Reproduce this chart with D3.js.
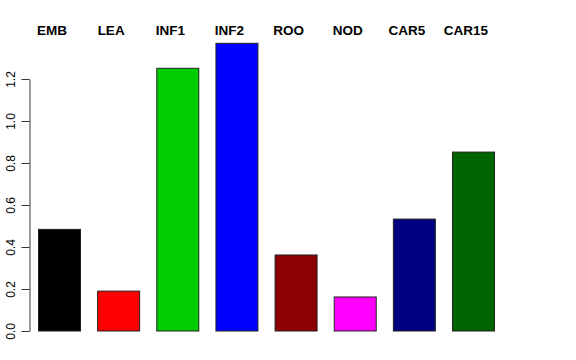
<!DOCTYPE html>
<html><head><meta charset="utf-8">
<script src="https://cdn.jsdelivr.net/npm/d3@7"></script>
<style>body{margin:0;background:#fff}svg{display:block}</style>
</head><body>
<script>
const categories = ["EMB","LEA","INF1","INF2","ROO","NOD","CAR5","CAR15"];
const values = [0.484, 0.19, 1.251, 1.37, 0.362, 0.162, 0.533, 0.852];
const barColors = ["#000000","#FF0000","#00CD00","#0000FF","#8B0000","#FF00FF","#000080","#006400"];
const yTicks = [0, 0.2, 0.4, 0.6, 0.8, 1.0, 1.2];

const W = 576, H = 360;
const svg = d3.select("body").append("svg").attr("width", W).attr("height", H);
const x = d3.scaleBand().domain(categories).range([38, 494]).paddingInner(0.29).paddingOuter(0);
const y = d3.scaleLinear().domain([0, 1.2]).range([331, 79]);

svg.selectAll("rect.bar").data(categories).enter().append("rect")
  .attr("class","bar")
  .attr("x", d => x(d) + 0.5)
  .attr("width", x.bandwidth())
  .attr("y", (d,i) => y(values[i]))
  .attr("height", (d,i) => y(0) - y(values[i]))
  .attr("fill", (d,i) => barColors[i])
  .attr("stroke", "#222")
  .attr("stroke-width", 1);

const axis = d3.axisLeft(y).tickValues(yTicks).tickFormat(d3.format(".1f")).tickSize(8).tickSizeOuter(0);
const g = svg.append("g").attr("transform","translate(29.5,0)").call(axis);
g.select(".domain").attr("stroke","#333");
g.selectAll(".tick line").attr("stroke","#333");
g.selectAll(".tick text")
  .attr("font-family","Liberation Sans, Arial, sans-serif")
  .attr("font-size", 12)
  .attr("fill","#000")
  .attr("transform", null)
  .attr("x", null).attr("dy", null)
  .attr("text-anchor","middle")
  .attr("transform", "translate(-15,0) rotate(-90)");

svg.selectAll("text.cat").data(categories).enter().append("text")
  .attr("class","cat")
  .attr("x", d => x(d) + x.bandwidth()/2 - 7)
  .attr("y", 35)
  .attr("text-anchor","middle")
  .attr("font-family","Liberation Sans, Arial, sans-serif")
  .attr("font-weight","bold")
  .attr("font-size", 13.5)
  .text(d => d);
</script>
</body></html>
